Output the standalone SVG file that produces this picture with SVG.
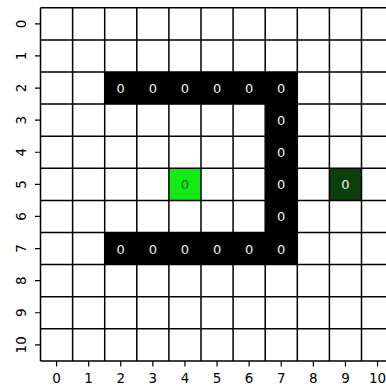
<svg xmlns="http://www.w3.org/2000/svg" width="386" height="386" viewBox="0 0 386 386">
<style>
.grid{stroke:#000;stroke-width:1.5;fill:none}
.tick{stroke:#000;stroke-width:1.2}
.lbl{font-family:"DejaVu Sans",sans-serif;font-size:13.5px;fill:#000;text-anchor:middle}
.ann{font-family:"DejaVu Sans",sans-serif;font-size:13px;text-anchor:middle}
.w{fill:#f2f2f2}
.d{fill:#262626}
</style>
<rect width="386" height="386" fill="#fff"/>
<g id="cells">
<rect x="104.7" y="72" width="192.6" height="32.1" fill="#000"/>
<rect x="104.7" y="232.5" width="192.6" height="32.1" fill="#000"/>
<rect x="265.2" y="72" width="32.1" height="192.6" fill="#000"/>
<rect id="goal" x="168.9" y="168.3" width="32.1" height="32.1" fill="#14ea14"/>
<rect id="start" x="329.4" y="168.3" width="32.1" height="32.1" fill="#0b3f0b"/>
</g>
<g id="gridlines" class="grid">
<path d="M40.5 7.8V360.9M72.6 7.8V360.9M104.7 7.8V360.9M136.8 7.8V360.9M168.9 7.8V360.9M201 7.8V360.9M233.1 7.8V360.9M265.2 7.8V360.9M297.3 7.8V360.9M329.4 7.8V360.9M361.5 7.8V360.9"/>
<path d="M40.5 7.8H393.6M40.5 39.9H393.6M40.5 72H393.6M40.5 104.1H393.6M40.5 136.2H393.6M40.5 168.3H393.6M40.5 200.4H393.6M40.5 232.5H393.6M40.5 264.6H393.6M40.5 296.7H393.6M40.5 328.8H393.6M40.5 360.9H393.6"/>
</g>
<g id="annotations" class="ann">
<g class="w">
<text x="120.75" y="93">0</text><text x="152.85" y="93">0</text><text x="184.95" y="93">0</text><text x="217.05" y="93">0</text><text x="249.15" y="93">0</text><text x="281.25" y="93">0</text>
<text x="281.25" y="125.1">0</text><text x="281.25" y="157.2">0</text><text x="281.25" y="189.3">0</text><text x="281.25" y="221.4">0</text>
<text x="120.75" y="253.5">0</text><text x="152.85" y="253.5">0</text><text x="184.95" y="253.5">0</text><text x="217.05" y="253.5">0</text><text x="249.15" y="253.5">0</text><text x="281.25" y="253.5">0</text>
<text x="345.45" y="189.3">0</text>
</g>
<text class="d" x="184.95" y="189.3" style="fill:#1d6b1d">0</text>
</g>
<g id="yaxis">
<path class="tick" d="M35 23.85H40.5M35 55.95H40.5M35 88.05H40.5M35 120.15H40.5M35 152.25H40.5M35 184.35H40.5M35 216.45H40.5M35 248.55H40.5M35 280.65H40.5M35 312.75H40.5M35 344.85H40.5"/>
<g class="lbl">
<text transform="translate(25.5 23.85) rotate(-90)">0</text>
<text transform="translate(25.5 55.95) rotate(-90)">1</text>
<text transform="translate(25.5 88.05) rotate(-90)">2</text>
<text transform="translate(25.5 120.15) rotate(-90)">3</text>
<text transform="translate(25.5 152.25) rotate(-90)">4</text>
<text transform="translate(25.5 184.35) rotate(-90)">5</text>
<text transform="translate(25.5 216.45) rotate(-90)">6</text>
<text transform="translate(25.5 248.55) rotate(-90)">7</text>
<text transform="translate(25.5 280.65) rotate(-90)">8</text>
<text transform="translate(25.5 312.75) rotate(-90)">9</text>
<text transform="translate(25.5 344.85) rotate(-90)">10</text>
</g>
</g>
<g id="xaxis">
<path class="tick" d="M56.55 360.9V366.5M88.65 360.9V366.5M120.75 360.9V366.5M152.85 360.9V366.5M184.95 360.9V366.5M217.05 360.9V366.5M249.15 360.9V366.5M281.25 360.9V366.5M313.35 360.9V366.5M345.45 360.9V366.5M377.55 360.9V366.5"/>
<g class="lbl">
<text x="56.55" y="383">0</text><text x="88.65" y="383">1</text><text x="120.75" y="383">2</text><text x="152.85" y="383">3</text><text x="184.95" y="383">4</text><text x="217.05" y="383">5</text><text x="249.15" y="383">6</text><text x="281.25" y="383">7</text><text x="313.35" y="383">8</text><text x="345.45" y="383">9</text><text x="377.55" y="383">10</text>
</g>
</g>
</svg>
